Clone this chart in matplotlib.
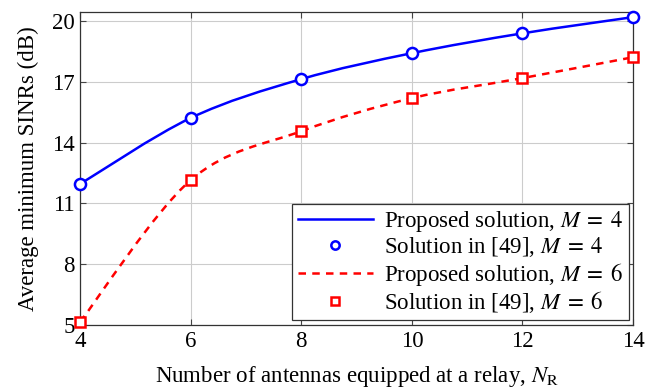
import matplotlib
matplotlib.use("Agg")
import matplotlib.pyplot as plt
import numpy as np
from matplotlib.path import Path
from matplotlib.patches import PathPatch
from matplotlib.lines import Line2D

plt.rcParams['font.family'] = ['Liberation Serif', 'DejaVu Serif']
plt.rcParams['mathtext.fontset'] = 'stix'

# data
antennas = [4, 6, 8, 10, 12, 14]
sinr_m4 = [11.96, 15.22, 17.14, 18.42, 19.40, 20.20]
sinr_m6 = [5.15, 12.15, 14.57, 16.20, 17.19, 18.22]
y_ticks = [5, 8, 11, 14, 17, 20]


def smooth_path(xs, ys, tension=0.55):
    # bezier path through the points, similar to pgfplots "smooth"
    pts = np.column_stack([xs, ys]).astype(float)
    n = len(pts)
    tang = np.zeros_like(pts)
    for i in range(n):
        a = pts[max(i - 1, 0)]
        b = pts[min(i + 1, n - 1)]
        tang[i] = (b - a) * tension * 0.3
    verts = [pts[0]]
    codes = [Path.MOVETO]
    for i in range(n - 1):
        verts += [pts[i] + tang[i], pts[i + 1] - tang[i + 1], pts[i + 1]]
        codes += [Path.CURVE4] * 3
    return Path(verts, codes)


fig = plt.figure(figsize=(6.48, 3.89), dpi=100)
ax = fig.add_axes([0.1235, 0.1645, 0.8535, 0.8045])

blue = (0, 0, 1)
red = (1, 0, 0)
lw = 1.8
fs = 16.5

ax.add_patch(PathPatch(smooth_path(antennas, sinr_m4), fill=False,
                       edgecolor=blue, lw=lw, zorder=3))
ax.add_patch(PathPatch(smooth_path(antennas, sinr_m6), fill=False,
                       edgecolor=red, lw=lw, linestyle=(0, (3, 2.5)), zorder=3))

ax.plot(antennas, sinr_m4, 'o', ms=8, mfc='white', mec=blue, mew=1.8,
        ls='none', zorder=4, clip_on=False)
ax.plot(antennas, sinr_m6, 's', ms=7.5, mfc='white', mec=red, mew=1.8,
        ls='none', zorder=4, clip_on=False)

ax.set_xlim(4, 14)
ax.set_ylim(5, 20.45)
ax.set_xticks(antennas)
ax.set_yticks(y_ticks)
ax.grid(True, color='#cccccc', lw=0.8)
ax.tick_params(direction='in', top=True, right=True, labelsize=fs,
               length=4, color='#444444', pad=4)
for s in ax.spines.values():
    s.set_linewidth(0.9)
    s.set_color('#333333')

ax.set_xlabel(r'Number of antennas equipped at a relay, $N_{\mathrm{R}}$',
              fontsize=fs, labelpad=9)
ax.set_ylabel('Average minimum SINRs (dB)', fontsize=fs, labelpad=9)

handles = [
    Line2D([], [], color=blue, lw=lw),
    Line2D([], [], color=blue, marker='o', ls='none', ms=6, mfc='white', mew=1.8),
    Line2D([], [], color=red, lw=lw, ls=(0, (3, 2.5))),
    Line2D([], [], color=red, marker='s', ls='none', ms=6, mfc='white', mew=1.8),
]
labels = [r'Proposed solution, $M\;=\;4$', r'Solution in [49], $M\;=\;4$',
          r'Proposed solution, $M\;=\;6$', r'Solution in [49], $M\;=\;6$']
leg = ax.legend(handles, labels, loc='lower right', fontsize=fs, frameon=True,
                fancybox=False, edgecolor='#333333', framealpha=1,
                borderaxespad=0.2, handlelength=3.3, labelspacing=0.05,
                handletextpad=0.45, borderpad=0.25)
leg.get_frame().set_linewidth(0.9)

fig.savefig('out.png', dpi=100)
